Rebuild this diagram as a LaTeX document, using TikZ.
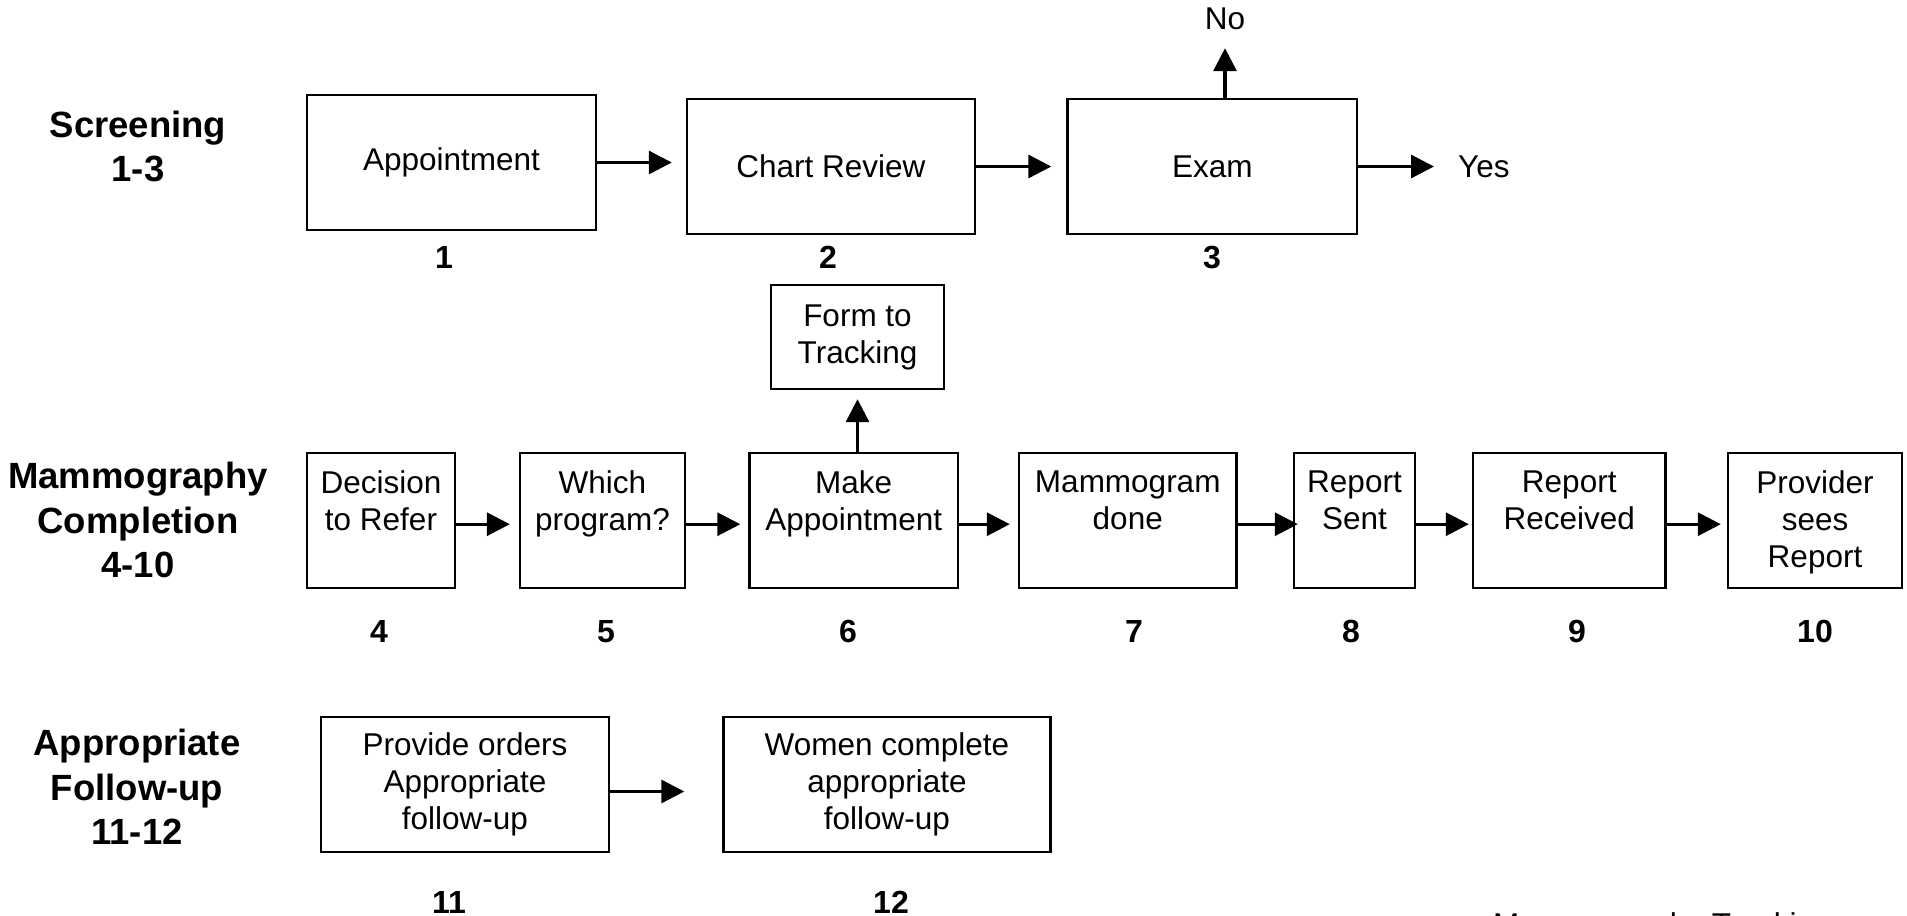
\documentclass[tikz,border=0pt]{standalone}
\usepackage{fontspec}
\setmainfont{Liberation Sans}
\usetikzlibrary{arrows.meta}
\newcommand{\regf}{\fontsize{31.5}{37}\selectfont}
\newcommand{\boldf}{\fontsize{36.5}{44.5}\selectfont\bfseries}
\newcommand{\numf}{\fontsize{32}{38}\selectfont\bfseries}
\begin{document}
\begin{tikzpicture}[x=1pt,y=-1pt,
  box/.style={draw, line width=2.4pt, inner sep=0pt, align=center, font=\regf, minimum height=135pt},
  lbl/.style={inner sep=0pt, align=center, font=\regf},
  grp/.style={inner sep=0pt, align=center, font=\boldf, anchor=north},
  num/.style={inner sep=0pt, font=\numf, anchor=base},
  arr/.style={line width=3.2pt, -{Triangle[length=23pt,width=23pt]}}]
\useasboundingbox (0,0) rectangle (1907,916);

% group labels
\node[grp] (g1) at (138,110.5) {Screening\\1-3};
\node[grp] (g2) at (138,462) {Mammography\\Completion\\4-10};
\node[grp] (g3) at (137,729) {Appropriate\\Follow-up\\11-12};

% row 1
\node[box, minimum width=289pt] (b1) at (451.5,162.5) {Appointment};
\node[box, minimum width=288pt] (b2) at (831,166.5) {Chart Review};
\node[box, minimum width=289.5pt] (b3) at (1212.25,166.5) {Exam};
\node[lbl] (no) at (1225,19) {No};
\node[lbl, anchor=base west] (yes) at (1458,177) {Yes};
\node[num] (n1) at (444,268) {1};
\node[num] (n2) at (828,268) {2};
\node[num] (n3) at (1212,268) {3};

% form to tracking
\node[box, minimum width=173pt, minimum height=104pt] (ft) at (857.5,337) {Form to\\Tracking};

% row 2 boxes
\node[box, minimum width=148pt] (b4) at (381,520.2) {};
\node[box, minimum width=165pt] (b5) at (602.5,520.2) {};
\node[box, minimum width=208.5pt] (b6) at (853.75,520.2) {};
\node[box, minimum width=217.5pt] (b7) at (1127.75,520.2) {};
\node[box, minimum width=121pt] (b8) at (1354.5,520.2) {};
\node[box, minimum width=192.5pt] (b9) at (1569.25,520.2) {};
\node[box, minimum width=174pt] (b10) at (1815,520.2) {};
% row 2 texts (top aligned)
\node[lbl, anchor=north, yshift=-19pt] (t4) at (b4.north) {Decision\\to Refer};
\node[lbl, anchor=north, yshift=-19pt] (t5) at (b5.north) {Which\\program?};
\node[lbl, anchor=north, yshift=-19pt] (t6) at (b6.north) {Make\\Appointment};
\node[lbl, anchor=north, yshift=-19pt] (t7) at (b7.north) {Mammogram\\done};
\node[lbl, anchor=north, yshift=-19pt] (t8) at (b8.north) {Report\\Sent};
\node[lbl, anchor=north, yshift=-19pt] (t9) at (b9.north) {Report\\Received};
\node[lbl, anchor=north, yshift=-19pt] (t10) at (b10.north) {Provider\\sees\\Report};
% row 2 numbers
\node[num] (n4) at (379,642) {4};
\node[num] (n5) at (606,642) {5};
\node[num] (n6) at (848,642) {6};
\node[num] (n7) at (1134,642) {7};
\node[num] (n8) at (1351,642) {8};
\node[num] (n9) at (1577,642) {9};
\node[num] (n10) at (1815,642) {10};

% row 3
\node[box, minimum width=288pt] (b11) at (465,784.5) {Provide orders\\Appropriate\\follow-up};
\node[box, minimum width=327pt] (b12) at (887,784.5) {Women complete\\appropriate\\follow-up};
\node[num] (n11) at (449,913) {11};
\node[num] (n12) at (891,913) {12};

% cut-off footer
\node[lbl, anchor=base west] (trk) at (1493,935) {Mammography Tracking};

% arrows row 1
\draw[arr, shorten >=14pt] (b1.east) -- (b1.east -| b2.west);
\draw[arr, shorten >=15pt] (b2.east) -- (b2.east -| b3.west);
\draw[arr, shorten >=18pt] (b3.north -| no.south) -- (no.south);
\draw[arr, shorten >=24pt] (b3.east) -- (b3.east -| yes.west);
% form to tracking
\draw[arr, shorten >=9pt] (b6.north -| ft.south) -- (ft.south);
% arrows row 2
\draw[arr, shorten >=9pt] ([yshift=-4pt]b4.east) -- ([yshift=-4pt]b5.west);
\draw[arr, shorten >=8pt] ([yshift=-4pt]b5.east) -- ([yshift=-4pt]b6.west);
\draw[arr, shorten >=8pt] ([yshift=-4pt]b6.east) -- ([yshift=-4pt]b7.west);
\draw[arr, shorten >=-5pt] ([yshift=-4pt]b7.east) -- ([yshift=-4pt]b8.west);
\draw[arr, shorten >=3pt] ([yshift=-4pt]b8.east) -- ([yshift=-4pt]b9.west);
\draw[arr, shorten >=6pt] ([yshift=-4pt]b9.east) -- ([yshift=-4pt]b10.west);
% arrow row 3
\draw[arr, shorten >=38pt] ([yshift=-7pt]b11.east) -- ([yshift=-7pt]b12.west);
\end{tikzpicture}
\end{document}
